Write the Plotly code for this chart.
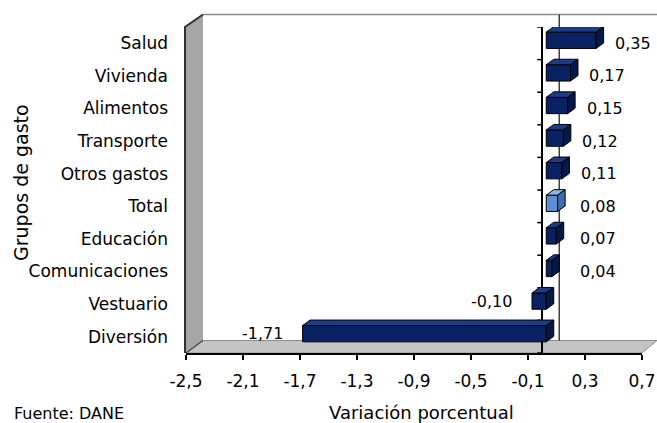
import plotly.graph_objects as go

# ---------------- data ----------------
categories = ["Salud", "Vivienda", "Alimentos", "Transporte", "Otros gastos",
              "Total", "Educación", "Comunicaciones", "Vestuario", "Diversión"]
values = [0.35, 0.17, 0.15, 0.12, 0.11, 0.08, 0.07, 0.04, -0.10, -1.71]
value_labels = ["0,35", "0,17", "0,15", "0,12", "0,11", "0,08", "0,07", "0,04", "-0,10", "-1,71"]
x_tick_values = [-2.5, -2.1, -1.7, -1.3, -0.9, -0.5, -0.1, 0.3, 0.7]
x_tick_labels = ["-2,5", "-2,1", "-1,7", "-1,3", "-0,9", "-0,5", "-0,1", "0,3", "0,7"]
highlight = "Total"

# ---------------- geometry / style ----------------
W, H = 657, 423
ML, MR, MT, MB = 186, 15, 27, 70
PW, PH = W - ML - MR, H - MT - MB
XMIN, XMAX = -2.5, 0.7
n = len(categories)
px_per_x = PW / (XMAX - XMIN)
px_per_y = PH / n
FRONT_DX = 4          # bars sit a bit behind the front plane
DEPTH_DX, DEPTH_DY = 7.5, 5.5   # bar depth (px)
WALL_DX, WALL_DY = 17, 12.5     # chart depth (px)
BAR_W = 0.5
BAR_OFF = -0.25 - 3 / px_per_y

FONT = "DejaVu Sans"
NAVY = "#0A2263"
NAVY_TOP = "#1E3C86"
NAVY_SIDE = "#061848"
LBLUE = "#5B8FD6"
LBLUE_TOP = "#8DB3E6"
LBLUE_SIDE = "#3E6DB3"


def P(px, py):
    """pixel -> paper coordinates"""
    return (px - ML) / PW, (H - MB - py) / PH


def path(pts, close=True):
    s = ""
    for k, (a, b) in enumerate(pts):
        s += ("M" if k == 0 else "L") + f"{a:.5f},{b:.5f} "
    return s + ("Z" if close else "")


ys = list(range(n))
fronts = [LBLUE if c == highlight else NAVY for c in categories]
tops = [LBLUE_TOP if c == highlight else NAVY_TOP for c in categories]
sides = [LBLUE_SIDE if c == highlight else NAVY_SIDE for c in categories]

fig = go.Figure()
fig.add_trace(go.Bar(
    x=values, y=ys, orientation="h", width=BAR_W, offset=BAR_OFF,
    xaxis="x2", yaxis="y",
    marker=dict(color=fronts, line=dict(color="black", width=1)),
    hoverinfo="skip", showlegend=False,
))

shapes = []
# left wall
shapes.append(dict(type="path", xref="paper", yref="paper", layer="below",
                   path=path([P(ML, MT), P(ML + WALL_DX, MT - WALL_DY),
                              P(ML + WALL_DX, H - MB - WALL_DY), P(ML, H - MB)]),
                   fillcolor="#A6A6A6", line=dict(width=0)))
# floor
shapes.append(dict(type="path", xref="paper", yref="paper", layer="below",
                   path=path([P(ML, H - MB), P(ML + WALL_DX, H - MB - WALL_DY),
                              P(W - MR + WALL_DX - 2, H - MB - WALL_DY), P(W - MR, H - MB)]),
                   fillcolor="#C4C4C4", line=dict(color="#8E8E8E", width=1)))
# dark edges of left wall
shapes.append(dict(type="path", xref="paper", yref="paper", layer="above",
                   path=path([P(ML - 1, H - MB), P(ML - 1, MT), P(ML + WALL_DX, MT - WALL_DY)], close=False),
                   line=dict(color="#303030", width=2)))
# floor / left wall joint
shapes.append(dict(type="path", xref="paper", yref="paper", layer="below",
                   path=path([P(ML, H - MB), P(ML + WALL_DX, H - MB - WALL_DY)], close=False),
                   line=dict(color="#505050", width=1.5)))
# back wall top edge
a = P(ML + WALL_DX, MT - WALL_DY); b = P(W + 5, MT - WALL_DY)
shapes.append(dict(type="line", xref="paper", yref="paper", layer="below",
                   x0=a[0], y0=a[1], x1=b[0], y1=b[1], line=dict(color="#8C8C8C", width=1.5)))
# back wall zero line
zx = (0 - XMIN) * px_per_x + ML + WALL_DX
a = P(zx, MT - WALL_DY); b = P(zx, H - MB - WALL_DY)
shapes.append(dict(type="line", xref="paper", yref="paper", layer="below",
                   x0=a[0], y0=a[1], x1=b[0], y1=b[1], line=dict(color="#404040", width=1.5)))
# category tick marks along the zero axis
for k in range(n + 1):
    shapes.append(dict(type="line", xref="x", yref="y", layer="above",
                       x0=-5 / px_per_x, x1=0, y0=k - 0.5, y1=k - 0.5,
                       line=dict(color="black", width=1.5)))

# 3D faces of bars
dxd = DEPTH_DX / px_per_x
dyd = DEPTH_DY / px_per_y
for i, v in enumerate(values):
    lo, hi = min(0, v), max(0, v)
    yt = i + BAR_OFF
    yb = yt + BAR_W
    shapes.append(dict(type="path", xref="x2", yref="y", layer="above",
                       path=path([(lo, yt), (hi, yt), (hi + dxd, yt - dyd), (lo + dxd, yt - dyd)]),
                       fillcolor=tops[i], line=dict(color="black", width=1)))
    shapes.append(dict(type="path", xref="x2", yref="y", layer="above",
                       path=path([(hi, yt), (hi + dxd, yt - dyd), (hi + dxd, yb - dyd), (hi, yb)]),
                       fillcolor=sides[i], line=dict(color="black", width=1)))

annotations = []
for i, (v, t) in enumerate(zip(values, value_labels)):
    if v >= 0:
        annotations.append(dict(x=max(v, 0.1), y=i, xref="x2", yref="y", text=t,
                                showarrow=False, xanchor="left", xshift=17, yshift=0,
                                font=dict(family=FONT, size=16, color="black")))
    else:
        annotations.append(dict(x=v, y=i, xref="x2", yref="y", text=t,
                                showarrow=False, xanchor="right", xshift=-18, yshift=3,
                                font=dict(family=FONT, size=16, color="black")))

tx, ty = P(21, 183)
annotations.append(dict(x=tx, y=ty, xref="paper", yref="paper", text="Grupos de gasto",
                        textangle=-90, showarrow=False, xanchor="center", yanchor="middle",
                        font=dict(family=FONT, size=19, color="black")))
tx, ty = P(421, 412)
annotations.append(dict(x=tx, y=ty, xref="paper", yref="paper", text="Variación porcentual",
                        showarrow=False, xanchor="center", yanchor="middle",
                        font=dict(family=FONT, size=18, color="black")))
tx, ty = P(12, 413)
annotations.append(dict(x=tx, y=ty, xref="paper", yref="paper", text="Fuente: DANE",
                        showarrow=False, xanchor="left", yanchor="middle",
                        font=dict(family=FONT, size=16, color="black")))

fig.update_layout(
    width=W, height=H,
    margin=dict(l=ML, r=MR, t=MT, b=MB, pad=0, autoexpand=False),
    paper_bgcolor="white", plot_bgcolor="rgba(0,0,0,0)",
    bargap=0.5,
    xaxis=dict(range=[XMIN, XMAX], tickvals=x_tick_values, ticktext=x_tick_labels,
               ticks="outside", ticklen=5, tickwidth=1.5, tickcolor="black",
               showline=True, linecolor="black", linewidth=1.5, automargin=False,
               showgrid=False, zeroline=True, zerolinecolor="black", zerolinewidth=1.5,
               tickfont=dict(family=FONT, size=17, color="black"), ticklabelstandoff=7),
    xaxis2=dict(range=[XMIN - FRONT_DX / px_per_x, XMAX - FRONT_DX / px_per_x],
                overlaying="x", visible=False, automargin=False),
    yaxis=dict(range=[n - 0.5, -0.5], tickvals=ys, ticktext=categories,
               ticks="", showline=False, showgrid=False, zeroline=False, automargin=False,
               tickfont=dict(family=FONT, size=17, color="black"), ticklabelstandoff=17),
    shapes=shapes, annotations=annotations,
    font=dict(family=FONT, color="black"),
)

fig.write_html("out.html", config={"displayModeBar": False},
               post_script="document.body.style.margin='0px';document.body.style.overflow='hidden';")
